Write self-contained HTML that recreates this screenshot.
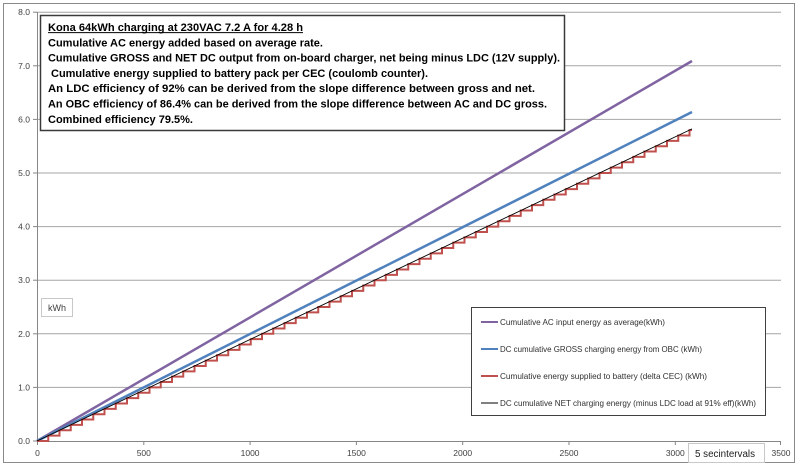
<!DOCTYPE html>
<html>
<head>
<meta charset="utf-8">
<style>
  html,body{margin:0;padding:0;background:#ffffff;}
  svg{display:block;}
  text{font-family:"Liberation Sans",Arial,sans-serif;}
</style>
</head>
<body>
<svg width="800" height="466" viewBox="0 0 800 466" xmlns="http://www.w3.org/2000/svg">
  <rect x="0" y="0" width="800" height="466" fill="#ffffff"/>
  <!-- chart border -->
  <rect x="3.5" y="3.5" width="791" height="459" fill="#ffffff" stroke="#8a8a8a" stroke-width="1"/>

  <!-- gridlines -->
  <g stroke="#a6a6a6" stroke-width="1">
    <line x1="37" y1="387.4" x2="781" y2="387.4"/>
    <line x1="37" y1="333.8" x2="781" y2="333.8"/>
    <line x1="37" y1="280.2" x2="781" y2="280.2"/>
    <line x1="37" y1="226.6" x2="781" y2="226.6"/>
    <line x1="37" y1="173.0" x2="781" y2="173.0"/>
    <line x1="37" y1="119.4" x2="781" y2="119.4"/>
    <line x1="37" y1="65.8" x2="781" y2="65.8"/>
    <line x1="37" y1="12.2" x2="781" y2="12.2"/>
  </g>

  <!-- axes -->
  <g stroke="#868686" stroke-width="1">
    <line x1="37.5" y1="12" x2="37.5" y2="441"/>
    <line x1="37" y1="441.5" x2="781" y2="441.5"/>
    <!-- y ticks -->
    <line x1="33" y1="441" x2="37" y2="441"/>
    <line x1="33" y1="387.4" x2="37" y2="387.4"/>
    <line x1="33" y1="333.8" x2="37" y2="333.8"/>
    <line x1="33" y1="280.2" x2="37" y2="280.2"/>
    <line x1="33" y1="226.6" x2="37" y2="226.6"/>
    <line x1="33" y1="173.0" x2="37" y2="173.0"/>
    <line x1="33" y1="119.4" x2="37" y2="119.4"/>
    <line x1="33" y1="65.8" x2="37" y2="65.8"/>
    <line x1="33" y1="12.2" x2="37" y2="12.2"/>
    <!-- x ticks -->
    <line x1="37.5" y1="441" x2="37.5" y2="445"/>
    <line x1="143.8" y1="441" x2="143.8" y2="445"/>
    <line x1="250.1" y1="441" x2="250.1" y2="445"/>
    <line x1="356.4" y1="441" x2="356.4" y2="445"/>
    <line x1="462.7" y1="441" x2="462.7" y2="445"/>
    <line x1="569.0" y1="441" x2="569.0" y2="445"/>
    <line x1="675.3" y1="441" x2="675.3" y2="445"/>
    <line x1="780.5" y1="441" x2="780.5" y2="445"/>
  </g>

  <!-- y labels -->
  <g font-size="8.5" fill="#404040" text-anchor="end">
    <text x="30" y="444">0.0</text>
    <text x="30" y="390.4">1.0</text>
    <text x="30" y="336.8">2.0</text>
    <text x="30" y="283.2">3.0</text>
    <text x="30" y="229.6">4.0</text>
    <text x="30" y="176">5.0</text>
    <text x="30" y="122.4">6.0</text>
    <text x="30" y="68.8">7.0</text>
    <text x="30" y="15.2">8.0</text>
  </g>
  <!-- x labels -->
  <g font-size="8.5" fill="#404040" text-anchor="middle">
    <text x="37.5" y="456">0</text>
    <text x="143.8" y="456">500</text>
    <text x="250.1" y="456">1000</text>
    <text x="356.4" y="456">1500</text>
    <text x="462.7" y="456">2000</text>
    <text x="569.0" y="456">2500</text>
    <text x="675.3" y="456">3000</text>
    <text x="781" y="456">3500</text>
  </g>

  <!-- series -->
  <line x1="37" y1="441" x2="692" y2="61" stroke="#8064A2" stroke-width="2.5"/>
  <line x1="37" y1="441" x2="692" y2="112" stroke="#4F81BD" stroke-width="2.5"/>
  <path fill="none" stroke="#C0504D" stroke-width="2" stroke-linejoin="miter" d="M37,441
    h11.25v-5.36h11.25v-5.36h11.25v-5.36h11.25v-5.36h11.25v-5.36h11.25v-5.36h11.25v-5.36h11.25v-5.36h11.25v-5.36h11.25v-5.36
    h11.25v-5.36h11.25v-5.36h11.25v-5.36h11.25v-5.36h11.25v-5.36h11.25v-5.36h11.25v-5.36h11.25v-5.36h11.25v-5.36h11.25v-5.36
    h11.25v-5.36h11.25v-5.36h11.25v-5.36h11.25v-5.36h11.25v-5.36h11.25v-5.36h11.25v-5.36h11.25v-5.36h11.25v-5.36h11.25v-5.36
    h11.25v-5.36h11.25v-5.36h11.25v-5.36h11.25v-5.36h11.25v-5.36h11.25v-5.36h11.25v-5.36h11.25v-5.36h11.25v-5.36h11.25v-5.36
    h11.25v-5.36h11.25v-5.36h11.25v-5.36h11.25v-5.36h11.25v-5.36h11.25v-5.36h11.25v-5.36h11.25v-5.36h11.25v-5.36h11.25v-5.36
    h11.25v-5.36h11.25v-5.36h11.25v-5.36h11.25v-5.36h11.25v-5.36h11.25v-5.36h11.25v-5.36h11.25v-5.36
    h2.5"/>
  <line x1="37" y1="441" x2="692" y2="128.9" stroke="#000000" stroke-width="0.9"/>

  <!-- title text box -->
  <rect x="40.5" y="15.5" width="524" height="115" fill="#ffffff" stroke="#3a3a3a" stroke-width="1.5"/>
  <g font-size="11" font-weight="bold" fill="#000000" lengthAdjust="spacingAndGlyphs">
    <text x="48" y="31" textLength="255" lengthAdjust="spacingAndGlyphs">Kona 64kWh charging at 230VAC 7.2 A for 4.28 h</text>
    <text x="48" y="46.3" textLength="275" lengthAdjust="spacingAndGlyphs">Cumulative AC energy added based on average rate.</text>
    <text x="48" y="61.6" textLength="512" lengthAdjust="spacingAndGlyphs">Cumulative GROSS and NET DC output from on-board charger, net being minus LDC (12V supply).</text>
    <text x="51" y="76.9" textLength="377" lengthAdjust="spacingAndGlyphs">Cumulative energy supplied to battery pack per CEC (coulomb counter).</text>
    <text x="48" y="92.2" textLength="487" lengthAdjust="spacingAndGlyphs">An LDC efficiency of 92% can be derived from the slope difference between gross and net.</text>
    <text x="48" y="107.5" textLength="499" lengthAdjust="spacingAndGlyphs">An OBC efficiency of 86.4% can be derived from the slope difference between AC and DC gross.</text>
    <text x="48" y="122.8" textLength="145" lengthAdjust="spacingAndGlyphs">Combined efficiency 79.5%.</text>
  </g>
  <line x1="48" y1="32.6" x2="303" y2="32.6" stroke="#000" stroke-width="1"/>

  <!-- kWh box -->
  <rect x="41.5" y="298.5" width="31" height="18" fill="#ffffff" stroke="#c8c8c8" stroke-width="1"/>
  <text x="57" y="311" font-size="9" fill="#404040" text-anchor="middle">kWh</text>

  <!-- legend -->
  <rect x="471.5" y="307.5" width="294" height="108" fill="#ffffff" stroke="#404040" stroke-width="1"/>
  <line x1="481" y1="322" x2="498" y2="322" stroke="#8064A2" stroke-width="2"/>
  <line x1="481" y1="349" x2="498" y2="349" stroke="#4F81BD" stroke-width="2"/>
  <line x1="481" y1="376" x2="498" y2="376" stroke="#C0504D" stroke-width="2"/>
  <line x1="481" y1="403" x2="498" y2="403" stroke="#000000" stroke-width="1"/>
  <g font-size="8.5" fill="#303030">
    <text x="500" y="325" textLength="165" lengthAdjust="spacingAndGlyphs">Cumulative AC input energy as average(kWh)</text>
    <text x="500" y="352" textLength="202" lengthAdjust="spacingAndGlyphs">DC cumulative GROSS charging energy from OBC (kWh)</text>
    <text x="500" y="379" textLength="207" lengthAdjust="spacingAndGlyphs">Cumulative energy supplied to battery (delta CEC) (kWh)</text>
    <text x="500" y="406" textLength="256" lengthAdjust="spacingAndGlyphs">DC cumulative NET charging energy (minus LDC load at 91% eff)(kWh)</text>
  </g>

  <!-- x-axis title box -->
  <rect x="688.5" y="443.5" width="76" height="19" fill="#ffffff" stroke="#c8c8c8" stroke-width="1"/>
  <text x="695" y="457" font-size="10" fill="#202020" textLength="60" lengthAdjust="spacingAndGlyphs">5 secintervals</text>
</svg>
</body>
</html>
